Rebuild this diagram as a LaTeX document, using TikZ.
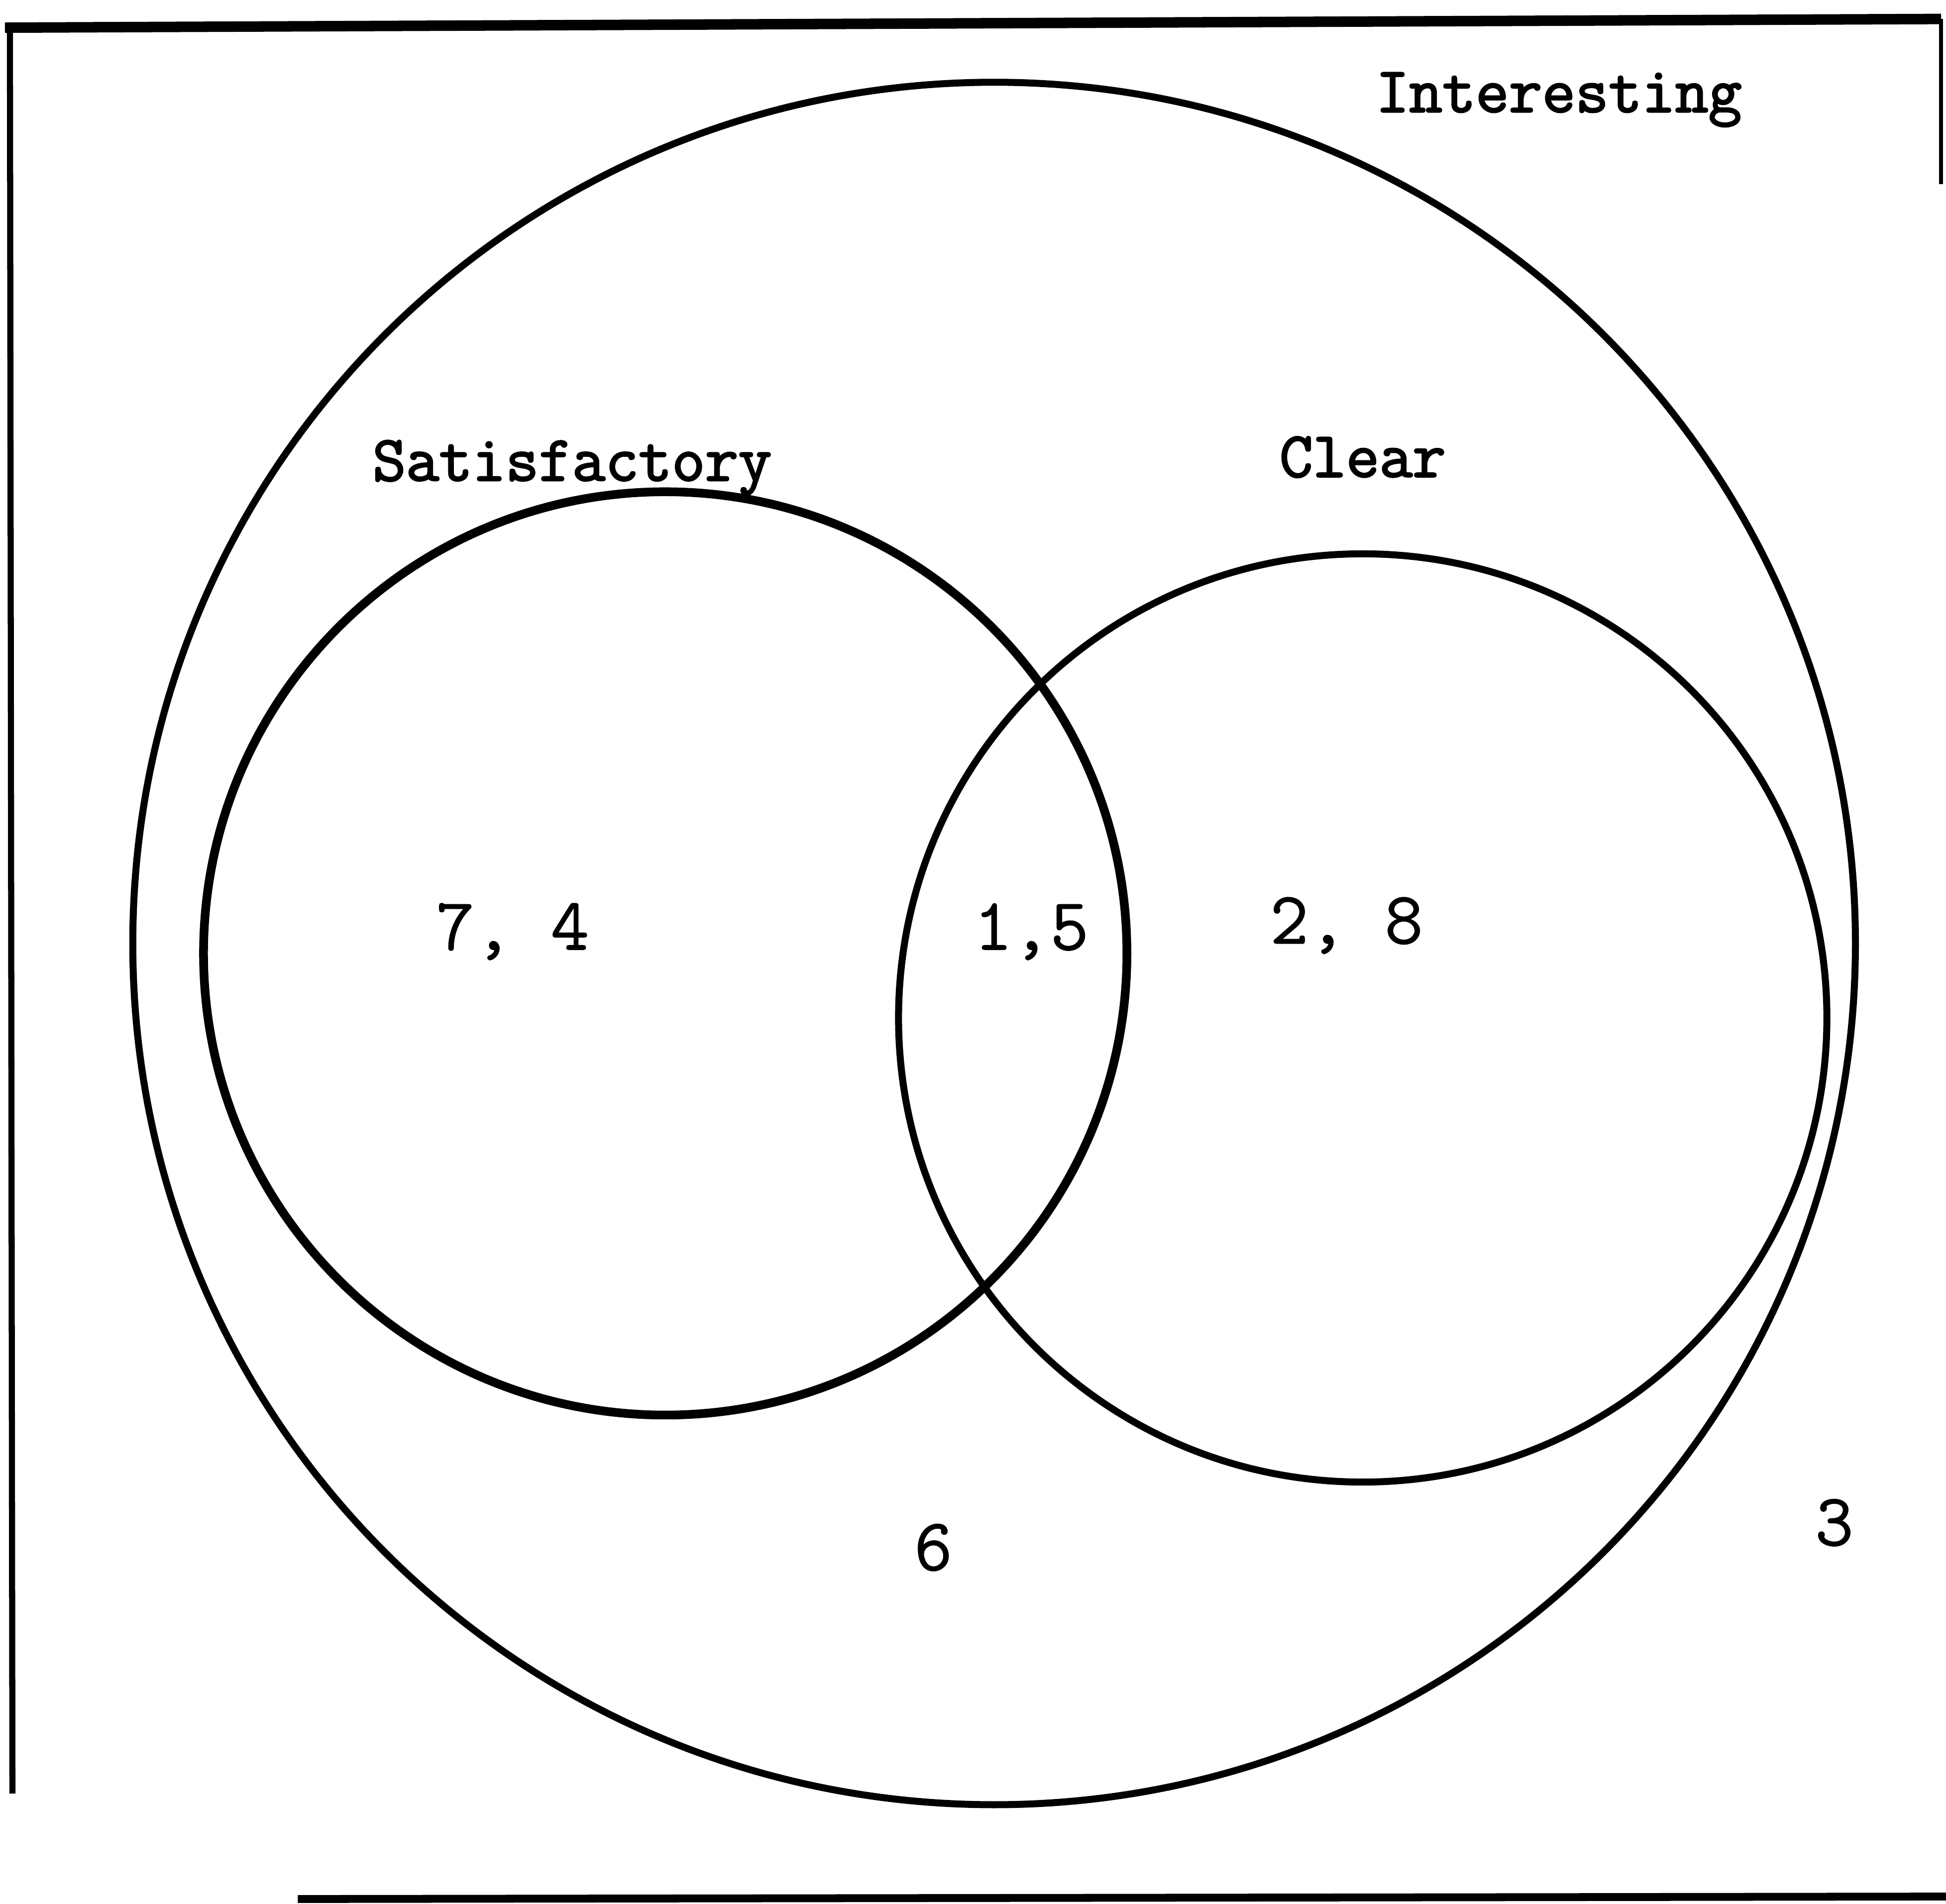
\documentclass[tikz,border=0pt]{standalone}
\usepackage{fontspec}
\usepackage{tikz}
\newfontfamily\typer{Latin Modern Mono}[FakeBold=2.4]
\newfontfamily\digits{Latin Modern Mono}[FakeBold=1]

\begin{document}
\begin{tikzpicture}[
  ring/.style={line width=1.6pt,black},
  edge/.style={line width=1.8pt,black},
  tag/.style={font=\typer\fontsize{14.8}{17}\selectfont,anchor=base,inner sep=0pt},
  num/.style={font=\digits\fontsize{17}{20}\selectfont,anchor=base,inner sep=0pt}
]
  \useasboundingbox (0,0) rectangle (15.68,15.343);
  % frame of the page
  \draw[edge,line width=1.4pt] (0.10,0.89) -- (0.08,15.12);
  \draw[edge,line width=2.4pt] (0.04,15.12) -- (15.64,15.19);
  \draw[edge,line width=1pt] (15.64,15.19) -- (15.64,13.86);
  \draw[edge] (2.40,0.04) -- (15.68,0.06);
  % the three sets
  \draw[ring] (8.01,7.74) circle (6.94);
  \draw[ring,line width=2pt] (5.36,7.66) circle (3.72);
  \draw[ring] (10.98,7.14) circle (3.74);
  \node[tag] (int) at (12.56,14.44) {Interesting};
  \node[tag] (sat) at (4.61,11.47) {Satisfactory};
  \node[tag] (clr) at (10.98,11.50) {Clear};
  % members of each region
  \node[num] (r74) at (4.13,7.69) {7, 4};
  \node[num] (r15) at (8.31,7.69) {1,5};
  \node[num] (r28) at (10.85,7.74) {2, 8};
  \node[num] (r6)  at (7.52,2.69) {6};
  \node[num] (r3)  at (14.78,2.89) {3};
\end{tikzpicture}
\end{document}
